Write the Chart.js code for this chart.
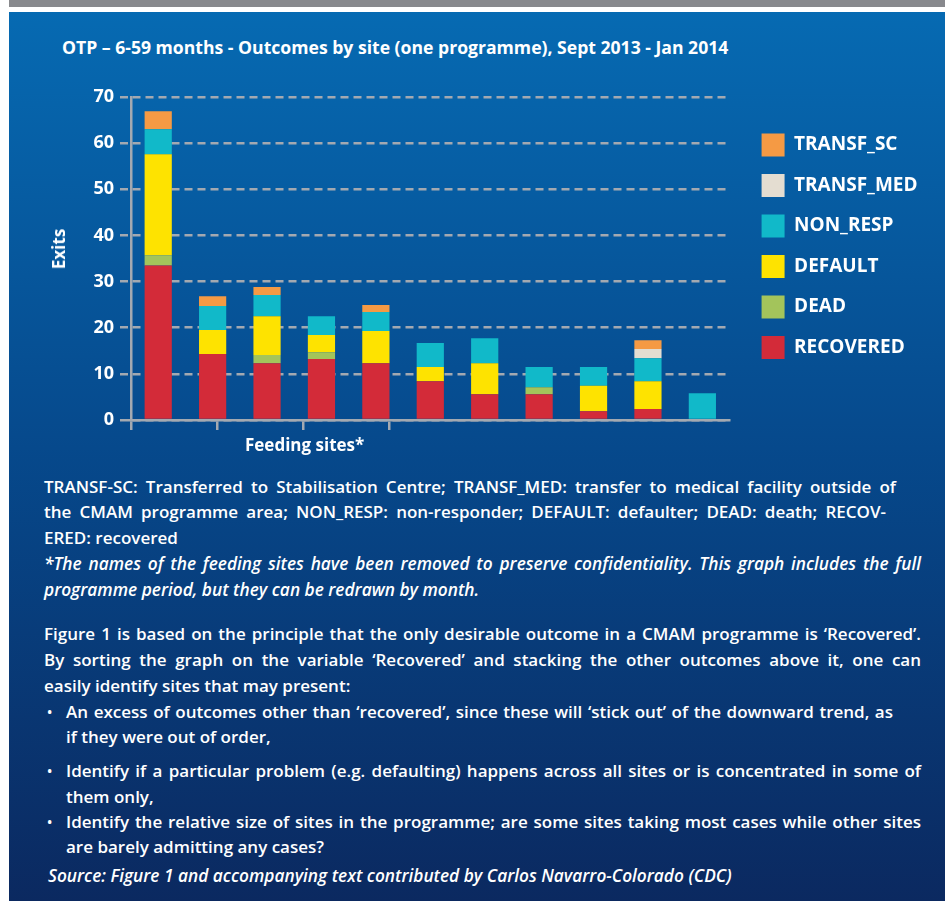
<!DOCTYPE html>
<html>
<head>
<meta charset="utf-8">
<script src="https://cdn.jsdelivr.net/npm/chart.js@4.4.1/dist/chart.umd.min.js"></script>
<style>
  html, body { margin: 0; padding: 0; background: #fff; }
  body { width: 945px; height: 901px; position: relative; overflow: hidden; font-family: "Open Sans", Lato, sans-serif; }
  .topbar { position: absolute; left: 9px; top: 0; width: 936px; height: 7px; background: #88898d; }
  .panel { position: absolute; left: 9px; top: 12px; width: 936px; height: 889px;
    background: linear-gradient(to bottom, #066ab2 0%, #06498c 49%, #0b2960 100%); }
  .wrap { position: absolute; left: 9px; top: 12px; width: 936px; height: 460px; }
  .t { position: absolute; color: #fff; font-weight: 600; font-size: 17px; line-height: 26px; white-space: nowrap; }
  .i { font-style: italic; font-size: 17.3px; }
  .b { font-size: 14px; }
  .title { font-size: 17.6px; font-weight: 700; }
  .ax { font-size: 17px; font-weight: 700; }
</style>
</head>
<body>
<div class="topbar"></div>
<div class="panel"></div>
<div class="t title" style="left:62px; top:34px;">OTP – 6-59 months - Outcomes by site (one programme), Sept 2013 - Jan 2014</div>
<div class="wrap"><canvas id="outcomeChart"></canvas></div>
<div class="t ax" style="left:59px; top:249px; transform: translate(-50%, -50%) rotate(-90deg);">Exits</div>
<div class="t ax" style="left:245px; top:432px;">Feeding sites*</div>

<div class="t j" data-w="852" style="left:44px; top:474px;">TRANSF-SC: Transferred to Stabilisation Centre; TRANSF_MED: transfer to medical facility outside of</div>
<div class="t j" data-w="842" style="left:44px; top:499px;">the CMAM programme area; NON_RESP: non-responder; DEFAULT: defaulter; DEAD: death; RECOV-</div>
<div class="t" style="left:44px; top:525px;">ERED: recovered</div>
<div class="t j i" data-w="877" style="left:44px; top:551px;">*The names of the feeding sites have been removed to preserve confidentiality. This graph includes the full</div>
<div class="t i" style="left:44px; top:577px;">programme period, but they can be redrawn by month.</div>

<div class="t j" data-w="877" style="left:44px; top:621px;">Figure 1 is based on the principle that the only desirable outcome in a CMAM programme is ‘Recovered’.</div>
<div class="t j" data-w="877" style="left:44px; top:647px;">By sorting the graph on the variable ‘Recovered’ and stacking the other outcomes above it, one can</div>
<div class="t" style="left:44px; top:673px;">easily identify sites that may present:</div>
<div class="t b" style="left:47px; top:699px;">•</div>
<div class="t j" data-w="827" style="left:66px; top:699px;">An excess of outcomes other than ‘recovered’, since these will ‘stick out’ of the downward trend, as</div>
<div class="t" style="left:66px; top:724px;">if they were out of order,</div>
<div class="t b" style="left:47px; top:758px;">•</div>
<div class="t j" data-w="855" style="left:66px; top:758px;">Identify if a particular problem (e.g. defaulting) happens across all sites or is concentrated in some of</div>
<div class="t" style="left:66px; top:784px;">them only,</div>
<div class="t b" style="left:47px; top:809px;">•</div>
<div class="t j" data-w="855" style="left:66px; top:809px;">Identify the relative size of sites in the programme; are some sites taking most cases while other sites</div>
<div class="t" style="left:66px; top:834px;">are barely admitting any cases?</div>
<div class="t i" style="left:48px; top:863px;">Source: Figure 1 and accompanying text contributed by Carlos Navarro-Colorado (CDC)</div>

<script>
// feeding sites (names removed in the source)
const sites = ['', '', '', '', '', '', '', '', '', '', ''];

// exits per site
const recovered = [33.5, 14.3, 12.3, 13.2, 12.3, 8.4, 5.6, 5.6, 1.9, 2.4, 0];
const dead      = [2.2, 0, 1.8, 1.5, 0, 0, 0, 1.5, 0, 0, 0];
const defaulted = [21.9, 5.2, 8.4, 3.7, 7.0, 3.1, 6.7, 0, 5.5, 6.0, 0];
const nonResp   = [5.4, 5.2, 4.6, 4.1, 4.1, 5.2, 5.4, 4.4, 4.1, 5.0, 5.8];
const transfMed = [0, 0, 0, 0, 0, 0, 0, 0, 0, 2.0, 0];
const transfSc  = [3.9, 2.1, 1.7, 0, 1.5, 0, 0, 0, 0, 1.9, 0];

const yTicks = [0, 10, 20, 30, 40, 50, 60, 70];
const xMarks = [0, 1, 2, 3];

const gridGrey = '#a3a9b1';
const fontFamily = '"Open Sans", Lato, sans-serif';

// stretch/squeeze the word gaps so each full line ends where the original does
function fitLines() {
  document.querySelectorAll('.j').forEach(el => {
    const target = +el.dataset.w;
    const span = document.createElement('span');
    span.textContent = el.textContent;
    el.textContent = '';
    el.appendChild(span);
    const natural = span.getBoundingClientRect().width;
    const gaps = (span.textContent.match(/ /g) || []).length;
    if (gaps) el.style.wordSpacing = ((target - natural) / gaps) + 'px';
  });
}
if (document.fonts && document.fonts.ready) document.fonts.ready.then(fitLines); else fitLines();

const ctx = document.getElementById('outcomeChart').getContext('2d');
new Chart(ctx, {
  type: 'bar',
  data: {
    labels: sites,
    datasets: [
      { label: 'RECOVERED', data: recovered, backgroundColor: '#d32b39' },
      { label: 'DEAD', data: dead, backgroundColor: '#a3c45b' },
      { label: 'DEFAULT', data: defaulted, backgroundColor: '#fee300' },
      { label: 'NON_RESP', data: nonResp, backgroundColor: '#11b9c9' },
      { label: 'TRANSF_MED', data: transfMed, backgroundColor: '#e4ddd1' },
      { label: 'TRANSF_SC', data: transfSc, backgroundColor: '#f59a44' }
    ]
  },
  options: {
    responsive: true,
    maintainAspectRatio: false,
    animation: false,
    categoryPercentage: 1,
    barPercentage: 0.5,
    layout: { padding: { left: 0, top: 85, right: 17.5, bottom: 42 } },
    scales: {
      x: { stacked: true, display: false },
      // only carries the axis line and the few tick marks under it
      xTicks: {
        type: 'linear',
        position: 'bottom',
        offset: false,
        bounds: 'data',
        afterDataLimits: s => { s.min = 0; s.max = 598 / 86; },
        afterBuildTicks: s => { s.ticks = xMarks.map(v => ({ value: v })); },
        afterFit: s => { s.height = 10; },
        ticks: { display: false },
        grid: {
          offset: false,
          drawOnChartArea: false,
          drawTicks: true,
          tickLength: 10,
          lineWidth: 2.5,
          color: gridGrey
        },
        border: { display: true, color: gridGrey, width: 2.5 }
      },
      y: {
        stacked: true,
        min: 0,
        max: 70,
        afterBuildTicks: s => { s.ticks = yTicks.map(v => ({ value: v })); },
        afterFit: s => { s.width = 122; },
        ticks: { color: '#ffffff', padding: 6, font: { family: fontFamily, size: 18, weight: '700' } },
        grid: {
          color: gridGrey,
          lineWidth: 2.5,
          tickLength: 11,
          tickBorderDash: c => (c.tick && c.tick.value === 0 ? [] : [8, 5])
        },
        border: { display: true, color: gridGrey, width: 2.5, dash: [8, 5] }
      },
      // empty spacer between the plot and the legend
      gap: {
        type: 'linear',
        position: 'right',
        display: true,
        afterFit: s => { s.width = 14.5; },
        ticks: { display: false },
        grid: { display: false },
        border: { display: false }
      }
    },
    plugins: {
      legend: {
        position: 'right',
        align: 'start',
        reverse: true,
        fullSize: false,
        maxWidth: 200,
        title: { display: true, text: '', padding: 0, font: { size: 15.8 } },
        labels: {
          color: '#ffffff',
          boxWidth: 23,
          boxHeight: 23,
          padding: 17.5,
          font: { family: fontFamily, size: 19, weight: '700' }
        }
      },
      tooltip: { enabled: false }
    }
  }
});
</script>
</body>
</html>
